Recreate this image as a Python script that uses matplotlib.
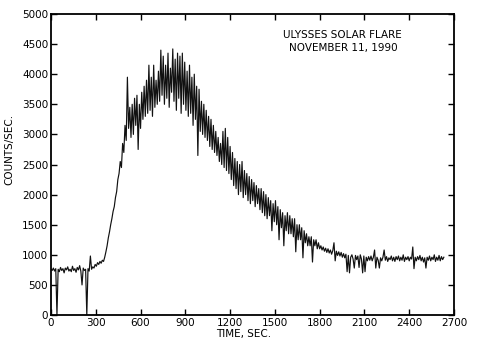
import numpy as np
import matplotlib
matplotlib.use("Agg")
import matplotlib.pyplot as plt

# count rate, one reading every 8 s starting at t = 0
quiet = [760, 740, 780, 730, 770, 0, 760, 720, 790, 740,
         770, 700, 780, 750, 800, 730, 760, 720, 810, 740,
         770, 710, 790, 750, 820, 730, 500, 780, 740, 760,
         0, 770, 730, 980]
precursor = [760, 800, 780, 840, 810, 870, 840, 890, 860, 910, 890]
rise = [960, 1050, 1150, 1280, 1380, 1500, 1600, 1720, 1800, 1950,
        2050, 2250, 2350, 2550, 2450, 2850, 2700, 3150, 2900]
plateau = [3950, 3100, 3450, 2950, 3500, 3000, 3600, 3150, 3650, 2750, 3500, 3100,
           3700, 3250, 3800, 3300, 3900, 3350, 4150, 3400, 3950, 3300, 4150, 3450, 3900]
peak = [3500, 4050, 3550, 4400, 3650, 4300, 3500, 4150, 3600, 4350,
        3450, 4100, 3700, 4420, 3550, 4250, 3400, 4350, 3600, 4300,
        3350, 4350, 3500, 4200,
        3400, 4050, 3300, 4150, 3350, 3950, 3150, 4000, 3250, 3800,
        2650, 3750, 3050]
decay = [3550, 3000, 3500, 2950, 3400, 2900, 3300, 2800, 3250, 2750,
         3150, 2700, 3050, 2650, 2950, 2550, 2850, 2500, 3050, 2450,
         3100, 2400, 2950, 2350, 2800,
         2250, 2700, 2150, 2600, 2100, 2550, 2000, 2500, 2050, 2550,
         1950, 2400, 2000, 2350, 1900, 2300, 1850, 2250, 1900, 2200,
         1800, 2150, 1850, 2100, 1750,
         2100, 1700, 2050, 1650, 2000, 1600, 1950, 1650, 1900, 1400,
         1850, 1550, 1900, 1500, 1800, 1250, 1750, 1450, 1700, 1150,
         1650, 1400, 1700, 1350, 1650,
         1350, 1600, 1300, 1600, 1050, 1500, 1250, 1500, 1250, 1450,
         950, 1400, 1200, 1350, 1150, 1300, 1150, 1300, 880, 1250,
         1150, 1250, 1100, 1200, 1100]
tail = [1150, 1080, 1130, 1060, 1110, 1040, 1100, 1030, 1080, 1010,
        1070, 1200, 900, 1060, 990, 1050, 980, 1040, 960, 1020,
        950, 1010, 720, 990, 700,
        960, 1000, 930, 780, 990, 920, 980, 790, 1000, 930,
        700, 980, 720, 960, 900, 970, 910, 980, 900, 960,
        1080, 780, 960, 910, 780,
        950, 900, 960, 1080, 910, 970, 890, 950, 920, 980,
        900, 960, 890, 970, 920, 980, 900, 960, 910, 1000,
        890, 960, 920, 970, 900,
        960, 930, 1130, 770, 960, 900, 970, 920, 990, 900,
        960, 880, 950, 780, 960, 910, 980, 900, 960, 920,
        1000, 890, 960, 910, 990, 900, 970, 920, 960]

counts = np.array(quiet + precursor + rise + plateau + peak + decay + tail)
time = np.arange(len(counts)) * 8

xticks = [0, 300, 600, 900, 1200, 1500, 1800, 2100, 2400, 2700]
yticks = [0, 500, 1000, 1500, 2000, 2500, 3000, 3500, 4000, 4500, 5000]

fig = plt.figure(figsize=(4.94, 3.40), dpi=100)
ax = fig.add_axes([0.1032, 0.0735, 0.8158, 0.8853])
ax.plot(time, counts, color="#111111", lw=0.85)

ax.set_xlim(0, 2700)
ax.set_ylim(0, 5000)
ax.set_xticks(xticks)
ax.set_yticks(yticks)
ax.tick_params(direction="in", length=4, width=1, top=True, right=True,
               labelsize=7.5, pad=2)
for s in ax.spines.values():
    s.set_linewidth(1.3)

ax.set_xlabel("TIME, SEC.", fontsize=7.5)
ax.xaxis.set_label_coords(0.479, -0.045)
ax.set_ylabel("COUNTS/SEC.", fontsize=7.5)
ax.yaxis.set_label_coords(-0.09, 0.55)

ax.text(1950, 4650, "ULYSSES SOLAR FLARE", fontsize=7.5, ha="center", va="center")
ax.text(1960, 4430, "NOVEMBER 11, 1990", fontsize=7.5, ha="center", va="center")

fig.savefig("out.png", dpi=100)
